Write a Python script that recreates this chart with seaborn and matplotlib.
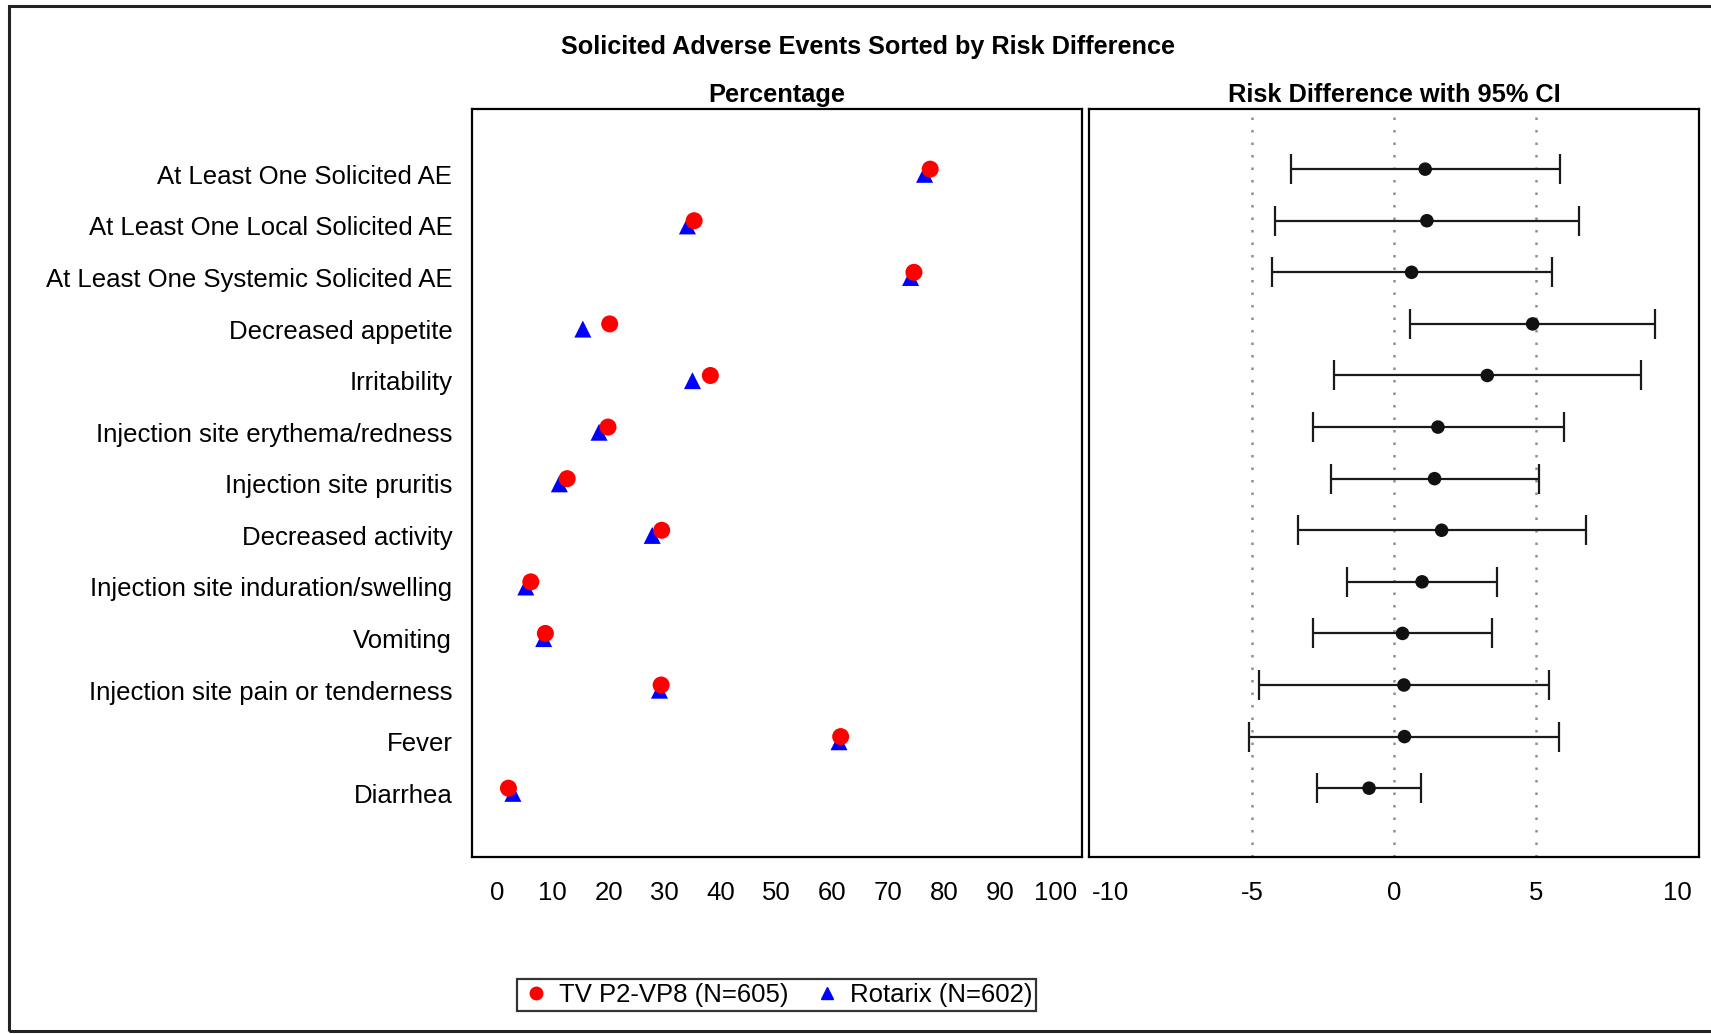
import matplotlib
matplotlib.use("Agg")
import matplotlib.pyplot as plt
from matplotlib.lines import Line2D
from matplotlib.patches import Rectangle
import seaborn as sns
import pandas as pd

events = [
    "At Least One Solicited AE",
    "At Least One Local Solicited AE",
    "At Least One Systemic Solicited AE",
    "Decreased appetite",
    "Irritability",
    "Injection site erythema/redness",
    "Injection site pruritis",
    "Decreased activity",
    "Injection site induration/swelling",
    "Vomiting",
    "Injection site pain or tenderness",
    "Fever",
    "Diarrhea",
]
tv_pct = [77.5, 35.3, 74.6, 20.2, 38.2, 19.9, 12.6, 29.5, 6.1, 8.7, 29.4, 61.5, 2.1]
rotarix_pct = [76.5, 34.1, 74.0, 15.4, 35.0, 18.3, 11.2, 27.8, 5.2, 8.4, 29.1, 61.2, 2.9]
risk_diff = [1.10, 1.16, 0.62, 4.89, 3.29, 1.55, 1.43, 1.68, 0.99, 0.30, 0.35, 0.37, -0.88]
ci_low = [-3.64, -4.19, -4.29, 0.58, -2.13, -2.87, -2.22, -3.40, -1.67, -2.87, -4.77, -5.13, -2.70]
ci_high = [5.86, 6.51, 5.56, 9.21, 8.71, 6.00, 5.11, 6.77, 3.64, 3.46, 5.48, 5.83, 0.96]

tv_label = "TV P2-VP8 (N=605)"
rx_label = "Rotarix (N=602)"

sns.set_style("white")
plt.rcParams["font.family"] = ["Liberation Sans", "DejaVu Sans"]
plt.rcParams["axes.unicode_minus"] = False
plt.rcParams["text.color"] = "black"

rows = list(range(len(events)))
pct = pd.DataFrame({
    "row": rows + rows,
    "pct": tv_pct + rotarix_pct,
    "group": [tv_label] * len(rows) + [rx_label] * len(rows),
})
# circles sit a little above the row line, as in the original
pct["ypos"] = pct["row"] - 0.1 * (pct["group"] == tv_label)
rd = pd.DataFrame({"row": rows, "rd": risk_diff, "lo": ci_low, "hi": ci_high})
rd["ypos"] = rd["row"] - 0.1

W, H = 1711, 1034
fig = plt.figure(figsize=(W / 100, H / 100), dpi=100)
ax1 = fig.add_axes([471.7 / W, 1 - 857.3 / H, (1082.3 - 471.7) / W, (857.3 - 109.3) / H])
ax2 = fig.add_axes([1088.7 / W, 1 - 857.3 / H, (1699.3 - 1088.7) / W, (857.3 - 109.3) / H])

# left panel: percentages
sns.scatterplot(data=pct[pct["group"] == rx_label], x="pct", y="ypos", ax=ax1,
                marker="^", color="#0000ff", s=150, edgecolor="none", legend=False)
sns.scatterplot(data=pct[pct["group"] == tv_label], x="pct", y="ypos", ax=ax1,
                marker="o", color="#ff0000", s=150, edgecolor="none", legend=False)
ax1.set_xlim(-4.47, 104.7)
ax1.set_ylim(13.24, -1.26)
ax1.set_xticks(range(0, 101, 10))
ax1.set_yticks(rows)
ax1.set_yticklabels(events)
ax1.set_xlabel("")
ax1.set_ylabel("")
ax1.set_title("Percentage", fontsize=18.3, fontweight="bold", pad=5, color="black")

# right panel: risk difference with CI
for v in (-5, 0, 5):
    ax2.axvline(v, color="#909090", linestyle=(0, (1, 4)), linewidth=1.8, zorder=0)
ax2.errorbar(rd["rd"], rd["ypos"],
             xerr=[rd["rd"] - rd["lo"], rd["hi"] - rd["rd"]],
             fmt="none", ecolor="#1a1a1a", elinewidth=1.6, capsize=11, capthick=1.6)
sns.scatterplot(data=rd, x="rd", y="ypos", ax=ax2, color="#111111", s=95,
                edgecolor="none", zorder=3, legend=False)
ax2.set_xlim(-10.77, 10.77)
ax2.set_ylim(13.24, -1.26)
ax2.set_xticks([-10, -5, 0, 5, 10])
ax2.set_yticks([])
ax2.set_xlabel("")
ax2.set_ylabel("")
ax2.set_title("Risk Difference with 95% CI", fontsize=18.3, fontweight="bold", pad=5,
              color="black")

for ax in (ax1, ax2):
    for sp in ax.spines.values():
        sp.set_visible(True)
        sp.set_color("black")
        sp.set_linewidth(1.6)
    ax.tick_params(axis="both", which="both", direction="out", length=8, width=1.4,
                   color="black", labelsize=18.5, labelcolor="black")
    ax.tick_params(axis="x", pad=9)
    ax.tick_params(axis="y", pad=6)
    ax.grid(False)

fig.text(868 / W, 1 - 47 / H, "Solicited Adverse Events Sorted by Risk Difference",
         ha="center", va="center", fontsize=18.2, fontweight="bold", color="black")

handles = [
    Line2D([], [], marker="o", color="#ff0000", linestyle="none", markersize=9),
    Line2D([], [], marker="^", color="#0000ff", linestyle="none", markersize=8),
]
leg = fig.legend(handles, [tv_label, rx_label], loc="center",
                 bbox_to_anchor=(776.5 / W, 1 - 995 / H), ncol=2, fontsize=18.5,
                 frameon=True, fancybox=False, borderpad=0.15, handletextpad=0.3,
                 columnspacing=0.9, handlelength=1.2)
leg.get_frame().set_edgecolor("black")
leg.get_frame().set_linewidth(1.6)

fig.patches.append(Rectangle((9 / W, 3 / H), 1.0, 1 - 9 / H, transform=fig.transFigure,
                             fill=False, edgecolor="#222222", linewidth=2.2))

fig.savefig("out.png", dpi=100)
